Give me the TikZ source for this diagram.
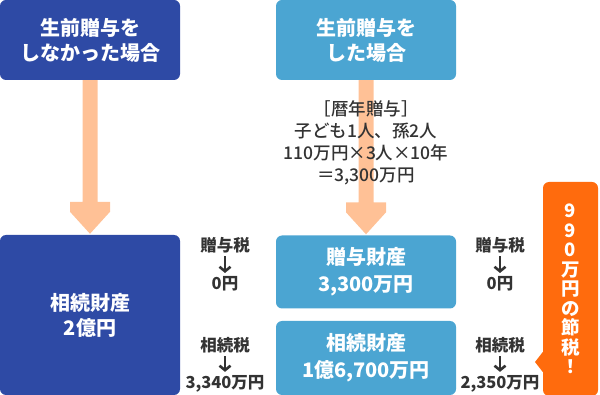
\documentclass[tikz,border=0pt]{standalone}
\usepackage{fontspec}
\newfontfamily\jp{Noto Sans CJK JP}
\newfontfamily\jpm{Noto Sans CJK JP Medium}
\usetikzlibrary{calc,arrows.meta}
\definecolor{dblue}{HTML}{2E4AA5}
\definecolor{lblue}{HTML}{4BA5D2}
\definecolor{peach}{HTML}{FFC196}
\definecolor{orng}{HTML}{FF6B0D}
\definecolor{txt}{HTML}{333333}
\newcommand\blockarrow[2]{%
  \fill[peach] ($(#1.south)+(-7.5,0)$) -- ($(#2.north)+(-7.5,-33)$) -- ($(#2.north)+(-20,-33)$) -- ($(#2.north)+(-20,-23)$) -- ($(#2.north)+(0,-1)$) -- ($(#2.north)+(20,-23)$) -- ($(#2.north)+(20,-33)$) -- ($(#2.north)+(7.5,-33)$) -- ($(#1.south)+(7.5,0)$) -- cycle;}
\begin{document}
\begin{tikzpicture}[x=1pt,y=-1pt,
  box/.style={rounded corners=6pt, inner sep=0pt, minimum width=180pt, align=center, text=white, font=\jp\bfseries\fontsize{20}{25}\selectfont},
  darkbox/.style={box, fill=dblue},
  lightbox/.style={box, fill=lblue},
  lbl/.style={inner sep=0pt, text=txt, font=\jp\bfseries\fontsize{16.5}{19}\selectfont, align=center},
  taxarrow/.style={draw=txt, line width=2.6pt, shorten <=3pt, shorten >=3.5pt, -{Straight Barb[length=4.5pt, width=11pt, line width=2.6pt]}},
  mid/.style={inner sep=0pt, text=txt, font=\jpm\fontsize{17.5}{22}\selectfont, align=center},
  callout/.style={fill=orng, rounded corners=6pt, inner sep=0pt, minimum width=55pt, minimum height=214pt, text=white, align=center, font=\jp\bfseries\fontsize{18.5}{19.5}\selectfont}]
\useasboundingbox (0,0) rectangle (600,395);
% boxes
\node[darkbox, minimum height=80pt] (L1) at (90,40) {生前贈与を\\しなかった場合};
\node[lightbox, minimum height=80pt] (R1) at (366,40) {生前贈与を\\した場合};
\node[darkbox, minimum height=160pt] (L2) at (90,315) {相続財産\\2億円};
\node[lightbox, minimum height=73pt, font=\jp\bfseries\fontsize{20}{27}\selectfont] (R2) at (366,272) {贈与財産\\3,300万円};
\node[lightbox, minimum height=74pt, font=\jp\bfseries\fontsize{20}{27}\selectfont] (R3) at (366,358) {相続財産\\1億6,700万円};
% arrows
\blockarrow{L1}{L2}
\blockarrow{R1}{R2}
% middle text
\node[mid] (M) at (366,143) {［暦年贈与］\\子ども1人、孫2人\\110万円×3人×10年\\＝3,300万円};
% side labels
\node[lbl] (g1t) at (225,245) {贈与税};
\node[lbl] (g1b) at (225,284) {0円};
\node[lbl] (s1t) at (225,345) {相続税};
\node[lbl] (s1b) at (225,384) {3,340万円};
\node[lbl] (g2t) at (500,245) {贈与税};
\node[lbl] (g2b) at (500,284) {0円};
\node[lbl] (s2t) at (500,345) {相続税};
\node[lbl] (s2b) at (500,384) {2,350万円};
\draw[taxarrow] (g1t) -- (g1b);
\draw[taxarrow] (s1t) -- (s1b);
\draw[taxarrow] (g2t) -- (g2b);
\draw[taxarrow] (s2t) -- (s2b);
% callout
\node[callout] (C) at (570.5,289) {9\\9\\0\\万\\円\\の\\節\\税\\！};
\coordinate (P) at (535,362);
\fill[orng] (P) -- ($(C.west)+(0,63)$) -- ($(C.west)+(1,63)$) -- ($(C.west)+(1,83)$) -- ($(C.west)+(0,83)$) -- cycle;
\end{tikzpicture}
\end{document}
